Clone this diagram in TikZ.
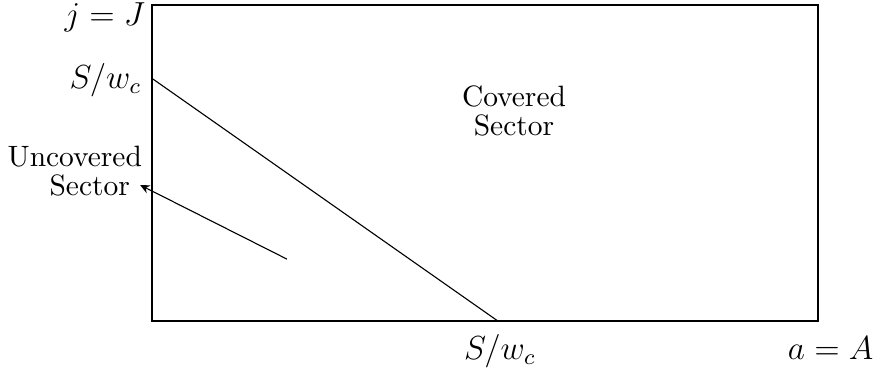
\documentclass[tikz,border=0pt]{standalone}
\usetikzlibrary{arrows.meta, positioning}
\begin{document}
\begin{tikzpicture}[
        sectorbox/.style={
            draw,
            line width=0.8pt
        },
        boundary/.style={
            thin
        },
        pointer/.style={
            -{Stealth[length=1.2mm, width=1.1mm]},
            thin
        },
        axislabel/.style={
            inner sep=0pt,
            anchor=base east,
            font=\fontsize{11.6}{14}\selectfont
        },
        textlabel/.style={
            inner sep=0pt,
            anchor=base east,
            font=\fontsize{10.6}{12.7}\selectfont
        },
        sectorlabel/.style={
            align=center,
            font=\fontsize{10.6}{10.4}\selectfont
        }
    ]

        \useasboundingbox (-1.922,-0.670) rectangle (9.156,4.061);

        % ---------------------------------------------------------------------
        % Region and cut-off line
        % ---------------------------------------------------------------------

        \coordinate (origin) at (0,0);
        \coordinate (corner) at (8.42,4);
        \draw[sectorbox] (origin) rectangle (corner);

        \coordinate (sy) at (0,3.07);
        \coordinate (sx) at (4.376,0);
        \draw[boundary] (sy) -- (sx);

        % ---------------------------------------------------------------------
        % Axis labels
        % ---------------------------------------------------------------------

        \node[axislabel] (jmax) at (-0.08,3.744) {$j=J$};
        \node[axislabel] (sleft) at (-0.13,2.94) {$S/w_c$};
        \node[axislabel, anchor=base] (sbottom) at (4.40,-0.49) {$S/w_c$};
        \node[axislabel] (amax) at (9.13,-0.48) {$a=A$};

        % ---------------------------------------------------------------------
        % Sectors
        % ---------------------------------------------------------------------

        \node[sectorlabel] (covered) at (4.578,2.66) {Covered\\Sector};

        \node[textlabel] (uncovered) at (-0.12,1.96) {Uncovered};
        \node[textlabel, inner sep=3.5pt] (sector) at (-0.15,1.594) {Sector};

        \coordinate (tail) at (1.707,0.784);
        \draw[pointer] (tail) -- (sector.east);

    \end{tikzpicture}
\end{document}
